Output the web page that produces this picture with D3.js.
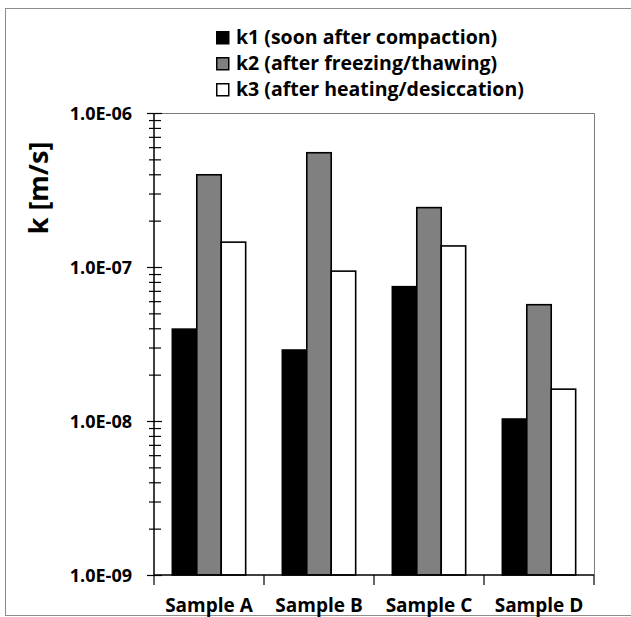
<!DOCTYPE html>
<html>
<head>
<meta charset="utf-8">
<script src="https://cdn.jsdelivr.net/npm/d3@7"></script>
<style>
  body { margin: 0; background: #fff; }
  text { font-family: "Open Sans", Lato, sans-serif; font-weight: bold; fill: #000; }
</style>
</head>
<body>
<svg id="canvas" width="631" height="617"></svg>
<script>
// chart data
let samples = ['Sample A', 'Sample B', 'Sample C', 'Sample D']
let seriesNames = ['k1 (soon after compaction)', 'k2 (after freezing/thawing)', 'k3 (after heating/desiccation)']
let seriesColors = ['#000000', '#808080', '#ffffff']
let k1 = [3.95e-8, 2.89e-8, 7.45e-8, 1.03e-8]
let k2 = [3.97e-7, 5.52e-7, 2.43e-7, 5.69e-8]
let k3 = [1.45e-7, 9.4e-8, 1.37e-7, 1.61e-8]
let majorTicks = [1e-9, 1e-8, 1e-7, 1e-6]

let series = [k1, k2, k3]

let canvas = d3.select('#canvas')

let plotLeft = 154, plotRight = 594, plotTop = 113, plotBottom = 575

// outer frame
canvas.append('rect')
    .attr('x', 5.5).attr('y', 8.5)
    .attr('width', 640).attr('height', 607)
    .attr('fill', 'none')
    .attr('stroke', '#8c8c8c')
    .attr('stroke-width', 1)

let xScale = d3.scaleBand()
    .domain(samples)
    .range([plotLeft, plotRight])
    .padding(0)

let xInner = d3.scaleBand()
    .domain(d3.range(series.length))
    .range([0, xScale.bandwidth()])
    .paddingInner(0)
    .paddingOuter(0.75)

let yScale = d3.scaleLog()
    .domain([1e-9, 1e-6])
    .range([plotBottom, plotTop])

// plot area frame (top + right)
canvas.append('path')
    .attr('d', 'M' + plotLeft + ',' + (plotTop + 0.5) + 'H' + (plotRight + 0.5) + 'V' + plotBottom)
    .attr('fill', 'none')
    .attr('stroke', '#7a7a7a')
    .attr('stroke-width', 1)

// bars
let groups = canvas.selectAll('g.group')
    .data(samples)
    .enter()
    .append('g')
    .attr('class', 'group')
    .attr('transform', (s) => 'translate(' + xScale(s) + ',0)')

groups.selectAll('rect')
    .data((s, i) => series.map((vals, j) => ({ j: j, v: vals[i] })))
    .enter()
    .append('rect')
    .attr('x', (d) => xInner(d.j))
    .attr('width', xInner.bandwidth())
    .attr('y', (d) => yScale(d.v))
    .attr('height', (d) => plotBottom - yScale(d.v))
    .attr('fill', (d) => seriesColors[d.j])
    .attr('stroke', '#000')
    .attr('stroke-width', 1.6)

// y axis
let isMajor = (v) => majorTicks.some((m) => Math.abs(v / m - 1) < 1e-6)
let fmt = (v) => {
    let e = Math.round(Math.log10(v))
    return '1.0E-' + String(-e).padStart(2, '0')
}

let yAxis = d3.axisLeft(yScale)
    .tickValues(yScale.ticks())
    .tickSize(0)
    .tickPadding(22)
    .tickFormat((v) => isMajor(v) ? fmt(v) : '')

let yg = canvas.append('g')
    .attr('transform', 'translate(' + plotLeft + ',0)')
    .call(yAxis)
yg.select('.domain').remove()
yg.selectAll('.tick line')
    .attr('x1', (v) => isMajor(v) ? -7 : -5)
    .attr('x2', (v) => isMajor(v) ? 8 : 7)
    .attr('stroke', '#000')
    .attr('stroke-width', 1.2)
yg.selectAll('.tick text')
    .style('font-size', '18px')
    .attr('dy', '0.36em')
yg.append('line')
    .attr('x1', 0).attr('x2', 0)
    .attr('y1', plotTop).attr('y2', plotBottom)
    .attr('stroke', '#000')
    .attr('stroke-width', 1.5)

// x axis
canvas.append('line')
    .attr('x1', plotLeft).attr('x2', plotRight)
    .attr('y1', plotBottom).attr('y2', plotBottom)
    .attr('stroke', '#000')
    .attr('stroke-width', 1.5)

canvas.selectAll('line.xtick')
    .data(d3.range(samples.length + 1))
    .enter()
    .append('line')
    .attr('class', 'xtick')
    .attr('x1', (i) => plotLeft + i * xScale.step())
    .attr('x2', (i) => plotLeft + i * xScale.step())
    .attr('y1', plotBottom)
    .attr('y2', plotBottom + 10)
    .attr('stroke', '#000')
    .attr('stroke-width', 1.2)

canvas.selectAll('text.xlabel')
    .data(samples)
    .enter()
    .append('text')
    .attr('class', 'xlabel')
    .attr('x', (s) => xScale(s) + xScale.bandwidth() / 2)
    .attr('y', 612)
    .attr('text-anchor', 'middle')
    .style('font-size', '19px')
    .text((s) => s)

// y label
canvas.append('text')
    .attr('transform', 'translate(48,188) rotate(-90)')
    .attr('text-anchor', 'middle')
    .style('font-size', '27px')
    .text('k [m/s]')

// legend
let legend = canvas.selectAll('g.legend')
    .data(seriesNames)
    .enter()
    .append('g')
    .attr('class', 'legend')
    .attr('transform', (d, i) => 'translate(216,' + (31 + i * 26) + ')')

legend.append('rect')
    .attr('x', 0.75).attr('y', 0.75)
    .attr('width', 12).attr('height', 12)
    .attr('fill', (d, i) => seriesColors[i])
    .attr('stroke', '#000')
    .attr('stroke-width', 1.5)

legend.append('text')
    .attr('x', 20)
    .attr('y', 13)
    .style('font-size', '19.5px')
    .text((d) => d)
</script>
</body>
</html>
